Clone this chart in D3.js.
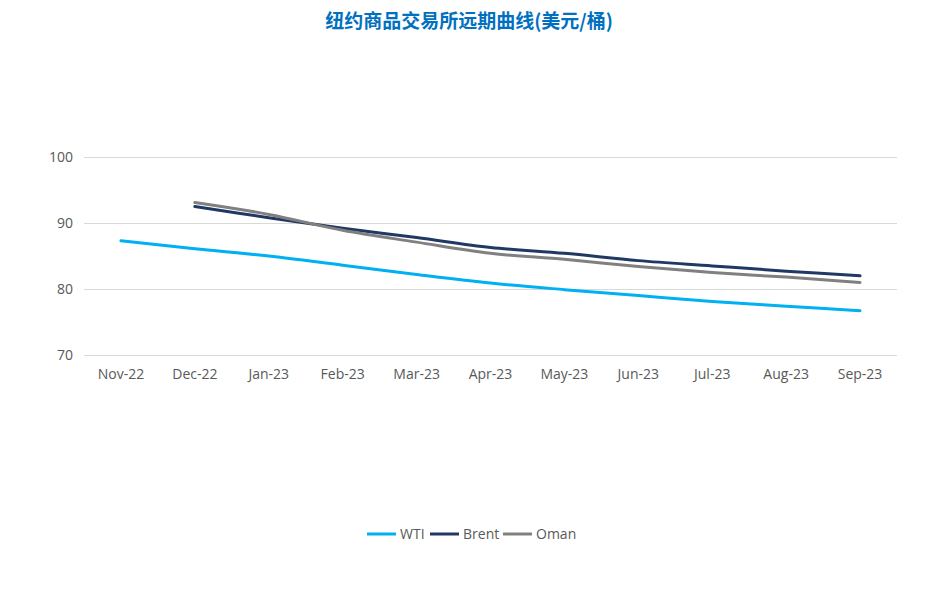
<!DOCTYPE html>
<html><head><meta charset="utf-8">
<script src="https://cdn.jsdelivr.net/npm/d3@7"></script>
<style>body{margin:0;background:#fff}svg{display:block}</style>
</head><body>
<svg id="c" width="937" height="601"></svg>
<script>
const categories = ["Nov-22","Dec-22","Jan-23","Feb-23","Mar-23","Apr-23","May-23","Jun-23","Jul-23","Aug-23","Sep-23"];
const wti   = [87.3, 86.1, 85.0, 83.6, 82.2, 80.9, 79.9, 79.0, 78.1, 77.4, 76.7];
const brent = [null, 92.5, 90.8, 89.2, 87.8, 86.3, 85.4, 84.3, 83.5, 82.7, 82.0];
const oman  = [null, 93.1, 91.3, 88.9, 87.1, 85.4, 84.5, 83.4, 82.5, 81.8, 81.0];
const yTicks = [70, 80, 90, 100];
const seriesNames = ["WTI","Brent","Oman"];
const seriesColors = ["#00B0F0","#203864","#808080"];

const series = [wti, brent, oman].map((v,i)=>({name:seriesNames[i], color:seriesColors[i], values:v}));
const svg = d3.select("#c");
const font = "'Open Sans', 'Noto Sans', sans-serif";
const x = d3.scaleBand().domain(categories).range([84, 897]);
const y = d3.scaleLinear().domain([70, 100]).range([355, 157]);

svg.append("text").attr("x", 469).attr("y", 28).attr("text-anchor","middle")
  .attr("font-family","'Noto Sans CJK SC', sans-serif").attr("font-weight","bold")
  .attr("font-size",19).attr("fill","#0070C0").text("纽约商品交易所远期曲线(美元/桶)");

const gy = svg.append("g").attr("transform","translate(84,0)")
  .call(d3.axisLeft(y).tickValues(yTicks).tickSize(-813).tickPadding(11));
gy.select(".domain").remove();
gy.selectAll("line").attr("stroke","#d9d9d9");
gy.selectAll("text").attr("font-family",font).attr("font-size",14).attr("fill","#595959");

const gx = svg.append("g").attr("transform","translate(0,355)")
  .call(d3.axisBottom(x).tickSize(0).tickPadding(14));
gx.select(".domain").remove();
gx.selectAll("text").attr("font-family",font).attr("font-size",14).attr("fill","#595959");

const line = d3.line().defined(d=>d!=null)
  .x((d,i)=>x(categories[i])+x.bandwidth()/2).y(d=>y(d))
  .curve(d3.curveCatmullRom.alpha(0.5));
series.forEach(s=>{
  svg.append("path").attr("d", line(s.values)).attr("fill","none")
    .attr("stroke", s.color).attr("stroke-width",3).attr("stroke-linecap","round");
});

// legend
const lg = svg.append("g").attr("font-family",font).attr("font-size",14).attr("fill","#595959");
const items = [{x:367},{x:430},{x:503}];
series.forEach((s,i)=>{
  const g = lg.append("g").attr("transform",`translate(${items[i].x},534)`);
  g.append("line").attr("x1",0).attr("x2",29).attr("stroke",s.color).attr("stroke-width",3);
  g.append("text").attr("x",33).attr("y",5).attr("fill","#595959").text(s.name);
});
</script>
</body></html>
